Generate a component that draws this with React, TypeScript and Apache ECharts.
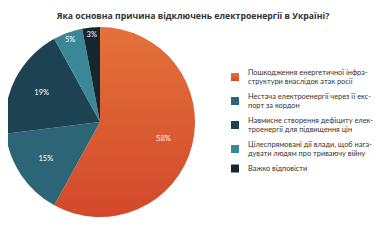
import React, { useEffect, useRef } from "react";
import * as echarts from "echarts";

const title = "Яка основна причина відключень електроенергії в Україні?";
const categories = [
  "Пошкодження енергетичної інфра-\nструктури внаслідок атак росії",
  "Нестача електроенергії через її екс-\nпорт за кордон",
  "Навмисне створення дефіциту елек-\nтроенергії для підвищення цін",
  "Цілеспрямовані дії влади, щоб нага-\nдувати людям про триваючу війну",
  "Важко відповісти",
];
const values = [58, 15, 19, 5, 3];
const colors = ["#dd5a30", "#2c6576", "#1d4251", "#3b8797", "#14262e"];
const outerLabelIdx = [3, 4];

export default function App() {
  const ref = useRef<HTMLDivElement>(null);
  useEffect(() => {
    const chart = echarts.init(ref.current!, null, { renderer: "svg" });
    const orange = new echarts.graphic.LinearGradient(0, 0, 0, 1, [
      { offset: 0, color: "#e4723a" },
      { offset: 1, color: "#d3482b" },
    ]);
    const sliceData = values.map((v, i) => ({
      value: v,
      name: categories[i],
      itemStyle: { color: i === 0 ? orange : colors[i] },
    }));
    const labelStyle = {
      position: "inside" as const,
      color: "#ffffff",
      fontSize: 7.5,
      fontFamily: "Lato",
      formatter: "{c}%",
    };
    const mkLabelData = (outer: boolean) =>
      values.map((v, i) => ({
        value: v,
        name: categories[i],
        itemStyle: { color: "rgba(0,0,0,0)" },
        label: { show: outerLabelIdx.includes(i) === outer },
      }));
    chart.setOption({
      animation: false,
      title: {
        text: title,
        left: 188,
        textAlign: "center",
        top: 6,
        textStyle: { fontSize: 8.7, fontWeight: "bold", color: "#333", fontFamily: "Open Sans" },
      },
      legend: {
        orient: "vertical",
        left: 226,
        top: 63,
        itemWidth: 8,
        itemHeight: 8,
        itemGap: 6,
        icon: "rect",
        selectedMode: false,
        data: categories,
        textStyle: { fontSize: 7.4, color: "#333", lineHeight: 9, fontFamily: "Lato", padding: [0, 0, 0, 4] },
      },
      series: [
        {
          type: "pie",
          radius: [0, 95],
          center: [100, 122],
          startAngle: 90,
          clockwise: true,
          label: { show: false },
          labelLine: { show: false },
          silent: true,
          data: sliceData,
        },
        {
          type: "pie",
          radius: [30, 95],
          center: [100, 122],
          startAngle: 90,
          clockwise: true,
          label: labelStyle,
          labelLine: { show: false },
          silent: true,
          data: mkLabelData(false),
        },
        {
          type: "pie",
          radius: [75, 95],
          center: [100, 122],
          startAngle: 90,
          clockwise: true,
          label: labelStyle,
          labelLine: { show: false },
          silent: true,
          data: mkLabelData(true),
        },
      ],
    });
    return () => chart.dispose();
  }, []);
  return <div ref={ref} style={{ width: 390, height: 240, margin: -8 }} />;
}
